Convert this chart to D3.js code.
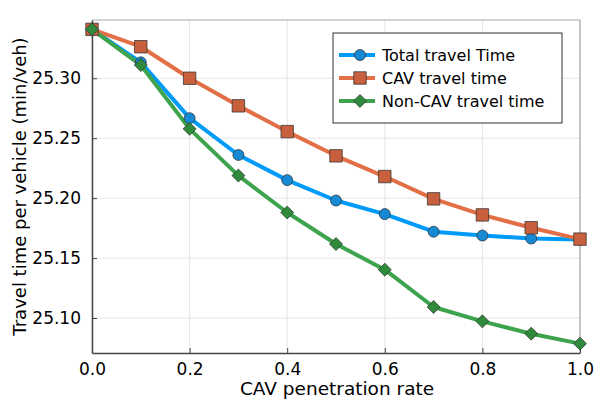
<!DOCTYPE html>
<html><head><meta charset="utf-8">
<script src="https://cdn.jsdelivr.net/npm/d3@7"></script>
<style>body{margin:0;background:#fff}svg{display:block}text{font-family:"DejaVu Sans",sans-serif;fill:#000}</style>
</head><body><svg id="c" width="600" height="400"></svg>
<script>
const penetration = [0,0.1,0.2,0.3,0.4,0.5,0.6,0.7,0.8,0.9,1.0];
const totalTime = [25.3408,25.3133,25.2667,25.2360,25.2150,25.1980,25.1867,25.1720,25.1688,25.1663,25.1655];
const cavTime = [25.3408,25.3263,25.3000,25.2770,25.2555,25.2353,25.2180,25.1994,25.1860,25.1753,25.1658];
const nonCavTime = [25.3408,25.3110,25.2578,25.2188,25.1880,25.1617,25.1403,25.1092,25.0972,25.0869,25.0786];
const xTicks = [0,0.2,0.4,0.6,0.8,1.0];
const yTicks = [25.10,25.15,25.20,25.25,25.30];
const seriesNames = ["Total travel Time","CAV travel time","Non-CAV travel time"];

const svg = d3.select("#c");
const L=92,R=580,T=20,B=353;
const x = d3.scaleLinear().domain([0,1]).range([L,R]);
const y = d3.scaleLinear().domain([25.0708,25.3486]).range([B,T]);

// grid
svg.append("g").selectAll("line").data(xTicks).join("line")
  .attr("x1",d=>x(d)).attr("x2",d=>x(d)).attr("y1",T).attr("y2",B)
  .attr("stroke","#e5e5e5").attr("stroke-width",1);
svg.append("g").selectAll("line").data(yTicks).join("line")
  .attr("x1",L).attr("x2",R).attr("y1",d=>y(d)).attr("y2",d=>y(d))
  .attr("stroke","#e5e5e5").attr("stroke-width",1);
// frame top/right
svg.append("path").attr("d",`M${L},${T}H${R}V${B}`).attr("fill","none").attr("stroke","#a8a8a8").attr("stroke-width",1.2);

// axes
const xAxis = d3.axisBottom(x).tickValues(xTicks).tickFormat(d3.format(".1f")).tickSizeInner(-5).tickSizeOuter(0).tickPadding(10);
const yAxis = d3.axisLeft(y).tickValues(yTicks).tickFormat(d3.format(".2f")).tickSizeInner(-5).tickSizeOuter(0).tickPadding(11);
const gx = svg.append("g").attr("transform",`translate(0,${B})`).call(xAxis);
const gy = svg.append("g").attr("transform",`translate(${L},0)`).call(yAxis);
[gx,gy].forEach(g=>{
  g.select(".domain").attr("stroke","#444").attr("stroke-width",1.5);
  g.selectAll(".tick line").attr("stroke","#444");
  g.selectAll(".tick text").attr("font-size",17).attr("fill","#000").style("font-family","'DejaVu Sans',sans-serif");
});

svg.append("text").attr("x",(L+R)/2 + 1).attr("y",395).attr("text-anchor","middle").attr("font-size",18.5).text("CAV penetration rate");
svg.append("text").attr("transform",`translate(26,${(T+B)/2}) rotate(-90)`).attr("text-anchor","middle").attr("font-size",18).text("Travel time per vehicle (min/veh)");

const diamond = {draw(ctx,size){const r=Math.sqrt(size/2);ctx.moveTo(0,-r);ctx.lineTo(r,0);ctx.lineTo(0,r);ctx.lineTo(-r,0);ctx.closePath();}};
const series = [
  {name:seriesNames[0], vals:totalTime, line:"#009af9", fill:"#1689d4", shape:d3.symbolCircle, size:95},
  {name:seriesNames[1], vals:cavTime, line:"#e26f46", fill:"#c8603d", shape:d3.symbolSquare, size:155},
  {name:seriesNames[2], vals:nonCavTime, line:"#3da44d", fill:"#2f8a3b", shape:diamond, size:84}
];
const line = d3.line().x((d,i)=>x(penetration[i])).y(d=>y(d));
series.forEach(s=>{
  svg.append("path").datum(s.vals).attr("d",line).attr("fill","none").attr("stroke",s.line).attr("stroke-width",4).attr("stroke-linejoin","round");
});
series.forEach(s=>{
  svg.append("g").selectAll("path").data(s.vals).join("path")
    .attr("transform",(d,i)=>`translate(${x(penetration[i])},${y(d)})`)
    .attr("d",d3.symbol().type(s.shape).size(s.size))
    .attr("fill",s.fill).attr("stroke","#333").attr("stroke-opacity",0.75).attr("stroke-width",1);
});

// legend
const lg = svg.append("g");
lg.append("rect").attr("x",333).attr("y",33).attr("width",229).attr("height",90).attr("fill","#fff").attr("stroke","#333").attr("stroke-width",1);
series.forEach((s,i)=>{
  const yy = 55+i*23;
  lg.append("line").attr("x1",339).attr("x2",375).attr("y1",yy).attr("y2",yy).attr("stroke",s.line).attr("stroke-width",4);
  lg.append("path").attr("transform",`translate(360,${yy})`).attr("d",d3.symbol().type(s.shape).size(s.size)).attr("fill",s.fill).attr("stroke","#333").attr("stroke-opacity",0.75);
  lg.append("text").attr("x",382).attr("y",yy+6).attr("font-size",16).text(s.name);
});
</script></body></html>
